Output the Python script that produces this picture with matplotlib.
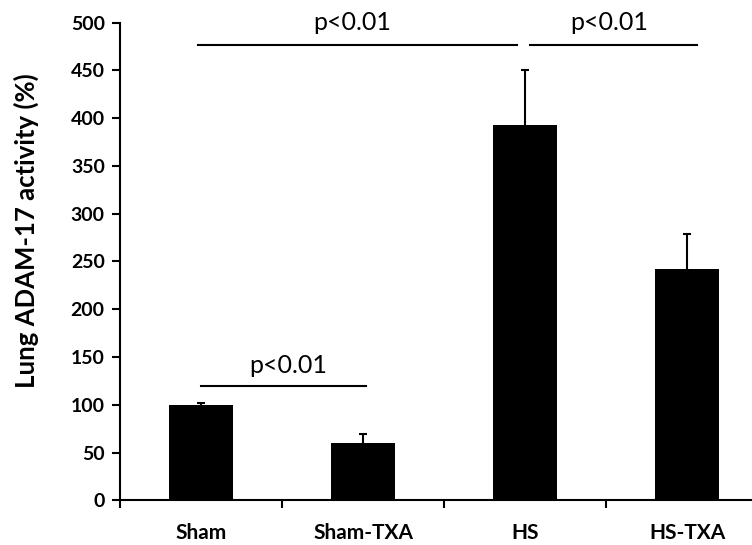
import matplotlib
matplotlib.use("Agg")
import matplotlib.pyplot as plt
import numpy as np

categories = ["Sham", "Sham-TXA", "HS", "HS-TXA"]
values = [100, 60, 393, 242]
errors = [1.5, 10, 57, 37]
yticks = [0, 50, 100, 150, 200, 250, 300, 350, 400, 450, 500]

plt.rcParams['font.family'] = ['Lato', 'DejaVu Sans']

fig = plt.figure(figsize=(7.52, 5.45), dpi=100)
ax = fig.add_axes([0.1596, 0.0817, 0.8404, 0.877])

x = np.arange(len(categories))
ax.bar(x, values, width=0.395, color='black', zorder=2)
eb = ax.errorbar(x, values, yerr=[np.zeros(len(values)), errors], fmt='none',
                 ecolor='black', elinewidth=1.5, capsize=2.6, capthick=1.5, zorder=1)
eb[1][0].set_visible(False)

ax.set_xlim(-0.5, 3.40)
ax.set_ylim(0, 500)
ax.set_yticks(yticks)
ax.set_yticklabels([str(t) for t in yticks], fontweight='bold', fontsize=14)
ax.set_xticks(x)
ax.set_xticklabels(categories, fontweight='bold', fontsize=15)
ax.tick_params(axis='x', which='major', length=0, pad=16)
ax.set_xticks([-0.5, 0.5, 1.5, 2.5], minor=True)
ax.tick_params(axis='x', which='minor', length=6, width=1.5, direction='out')
ax.tick_params(axis='y', length=6, width=1.5, direction='out', pad=5)

for s in ['top', 'right']:
    ax.spines[s].set_visible(False)
for s in ['left', 'bottom']:
    ax.spines[s].set_linewidth(1.5)

ax.set_ylabel("Lung ADAM-17 activity (%)", fontweight='bold', fontsize=18.5)
ax.yaxis.set_label_coords(-0.128, 0.565)

# significance brackets
brackets = [(0.0, 1.02, 120, "p<0.01", 0.537, 133),
            (-0.02, 1.95, 476.5, "p<0.01", 0.93, 492),
            (2.03, 3.06, 476.5, "p<0.01", 2.52, 492)]
for x0, x1, yv, txt, xt, yt in brackets:
    ax.plot([x0, x1], [yv, yv], color='black', lw=1.5, clip_on=False)
    ax.text(xt, yt, txt, ha='center', va='baseline', fontsize=18, clip_on=False)

fig.savefig("out.png", dpi=100)
